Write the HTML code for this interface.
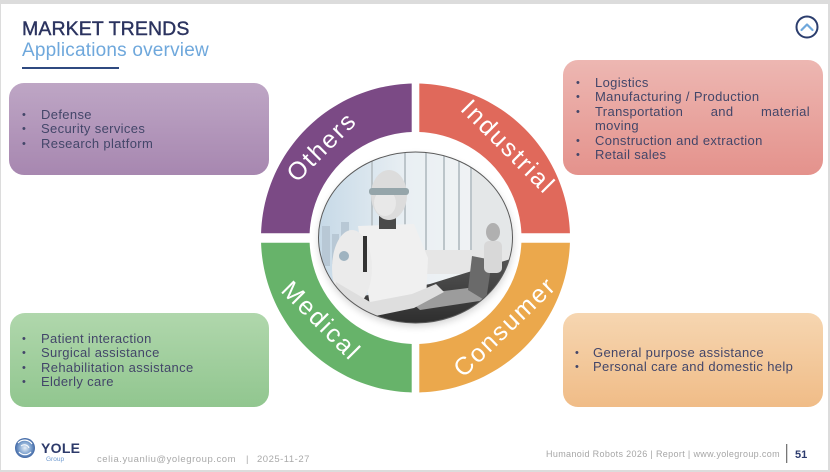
<!DOCTYPE html>
<html><head><meta charset="utf-8">
<style>
*{margin:0;padding:0;box-sizing:border-box}
html,body{width:830px;height:472px;overflow:hidden;background:#dcdcdc;font-family:"Liberation Sans",sans-serif}
#slide{position:absolute;left:1px;top:4px;width:827px;height:466px;background:#fff}
.abs{position:absolute}
.box{position:absolute;border-radius:15px}
.list{position:absolute;font-size:13px;line-height:14.4px;color:#434669;letter-spacing:0.35px;white-space:nowrap}
.it{position:relative}
.it .b{position:absolute;top:0;font-size:11px}
.just{display:block;text-align:justify;text-align-last:justify;white-space:normal}
</style></head><body>
<div id="slide"></div>

<!-- boxes -->
<div class="box" style="left:9px;top:83px;width:260px;height:92px;background:linear-gradient(#bea6c5,#a787b0)"></div>
<div class="box" style="left:563px;top:60px;width:260px;height:115px;background:linear-gradient(#edb7b2,#e4928c)"></div>
<div class="box" style="left:10px;top:313px;width:259px;height:94px;background:linear-gradient(#b0d7ac,#91c68f)"></div>
<div class="box" style="left:563px;top:313px;width:260px;height:94px;background:linear-gradient(#f6d6b1,#f0bc87)"></div>

<!-- lists -->
<div class="list" style="left:23px;top:108px;">
  <div class="it" style="padding-left:18px"><span class="b" style="left:-1px">•</span>Defense</div>
  <div class="it" style="padding-left:18px"><span class="b" style="left:-1px">•</span>Security services</div>
  <div class="it" style="padding-left:18px"><span class="b" style="left:-1px">•</span>Research platform</div>
</div>
<div class="list" style="left:577px;top:76px;width:233px;">
  <div class="it" style="padding-left:18px"><span class="b" style="left:-1px">•</span>Logistics</div>
  <div class="it" style="padding-left:18px"><span class="b" style="left:-1px">•</span>Manufacturing / Production</div>
  <div class="it" style="padding-left:18px"><span class="b" style="left:-1px">•</span><span class="just">Transportation and material</span>moving</div>
  <div class="it" style="padding-left:18px"><span class="b" style="left:-1px">•</span>Construction and extraction</div>
  <div class="it" style="padding-left:18px"><span class="b" style="left:-1px">•</span>Retail sales</div>
</div>
<div class="list" style="left:23px;top:332px;">
  <div class="it" style="padding-left:18px"><span class="b" style="left:-1px">•</span>Patient interaction</div>
  <div class="it" style="padding-left:18px"><span class="b" style="left:-1px">•</span>Surgical assistance</div>
  <div class="it" style="padding-left:18px"><span class="b" style="left:-1px">•</span>Rehabilitation assistance</div>
  <div class="it" style="padding-left:18px"><span class="b" style="left:-1px">•</span>Elderly care</div>
</div>
<div class="list" style="left:576px;top:346px;">
  <div class="it" style="padding-left:17px"><span class="b" style="left:-1px">•</span>General purpose assistance</div>
  <div class="it" style="padding-left:17px"><span class="b" style="left:-1px">•</span>Personal care and domestic help</div>
</div>

<!-- title -->
<div class="abs" style="left:22px;top:18px;font-size:19.5px;color:#2b335f;line-height:22px;white-space:nowrap;-webkit-text-stroke:0.4px #2b335f;letter-spacing:0.1px">MARKET TRENDS</div>
<div class="abs" style="left:22px;top:40px;font-size:19px;color:#6fa8dc;line-height:22px;white-space:nowrap;letter-spacing:0.2px">Applications overview</div>
<div class="abs" style="left:22px;top:67px;width:97px;height:2px;background:#2f4a80"></div>

<svg class="abs" style="left:0;top:0" width="830" height="472" viewBox="0 0 830 472">
  <defs>
    <clipPath id="tl"><rect x="0" y="0" width="411.7" height="233.3"/></clipPath>
    <clipPath id="tr"><rect x="419.3" y="0" width="420" height="233.3"/></clipPath>
    <clipPath id="bl"><rect x="0" y="242.7" width="411.7" height="300"/></clipPath>
    <clipPath id="br"><rect x="419.3" y="242.7" width="420" height="300"/></clipPath>
    <clipPath id="ph"><ellipse cx="415.5" cy="237.5" rx="97" ry="85.5"/></clipPath>
    <linearGradient id="bg" x1="0" y1="0" x2="1" y2="0">
      <stop offset="0" stop-color="#c6d9e7"/><stop offset="0.45" stop-color="#e9eff3"/><stop offset="1" stop-color="#f4f5f5"/>
    </linearGradient>
    <linearGradient id="tab" x1="0" y1="0" x2="0" y2="1">
      <stop offset="0" stop-color="#555"/><stop offset="1" stop-color="#2a2a2a"/>
    </linearGradient>
    <radialGradient id="logo" cx="0.5" cy="0.5" r="0.5">
      <stop offset="0" stop-color="#e6eef7"/><stop offset="0.6" stop-color="#7fa3cf"/><stop offset="1" stop-color="#3f66a4"/>
    </radialGradient>
    <filter id="sh" x="-20%" y="-20%" width="140%" height="140%"><feGaussianBlur stdDeviation="4"/></filter>
  </defs>

  <!-- ring -->
  <path d="M415.5 83.5 A154.5 154.5 0 1 1 415.49 83.5 Z M415.5 132 A106 106 0 1 0 415.51 132 Z" fill="#7b4a85" fill-rule="evenodd" clip-path="url(#tl)"/>
  <path d="M415.5 83.5 A154.5 154.5 0 1 1 415.49 83.5 Z M415.5 132 A106 106 0 1 0 415.51 132 Z" fill="#e0695b" fill-rule="evenodd" clip-path="url(#tr)"/>
  <path d="M415.5 83.5 A154.5 154.5 0 1 1 415.49 83.5 Z M415.5 132 A106 106 0 1 0 415.51 132 Z" fill="#67b36a" fill-rule="evenodd" clip-path="url(#bl)"/>
  <path d="M415.5 83.5 A154.5 154.5 0 1 1 415.49 83.5 Z M415.5 132 A106 106 0 1 0 415.51 132 Z" fill="#eba84c" fill-rule="evenodd" clip-path="url(#br)"/>

  <g fill="#fff" font-family="Liberation Sans, sans-serif" font-size="25" letter-spacing="2" text-anchor="middle" dominant-baseline="central">
    <text x="322" y="147" transform="rotate(-45 322 147)">Others</text>
    <text x="508" y="147" transform="rotate(45 508 147)">Industrial</text>
    <text x="321" y="321" transform="rotate(45 321 321)">Medical</text>
    <text x="505" y="327" transform="rotate(-44 505 327)">Consumer</text>
  </g>

  <!-- photo -->
  <ellipse cx="416" cy="241" rx="97" ry="85" fill="#000" opacity="0.18" filter="url(#sh)"/>
  <ellipse cx="415.5" cy="237.5" rx="97" ry="85.5" fill="#fff"/>
  <g clip-path="url(#ph)">
    <rect x="318" y="152" width="196" height="172" fill="url(#bg)"/>
    <rect x="470" y="152" width="44" height="120" fill="#e4e7e8"/>
    <g stroke="#bcc5ca" stroke-width="2">
      <line x1="372" y1="152" x2="372" y2="280"/>
      <line x1="405" y1="152" x2="405" y2="270"/>
      <line x1="426" y1="152" x2="426" y2="265"/>
      <line x1="444" y1="155" x2="444" y2="262"/>
      <line x1="459" y1="158" x2="459" y2="260"/>
      <line x1="471" y1="160" x2="471" y2="258"/>
    </g>
    <g fill="#b8c8d5">
      <rect x="322" y="226" width="8" height="40"/>
      <rect x="332" y="234" width="7" height="30"/>
      <rect x="341" y="222" width="8" height="40"/>
    </g>
    <rect x="420" y="250" width="90" height="24" fill="#e6e6e6"/>
    <path d="M318 304 L430 284 L514 258 L514 330 L318 330 Z" fill="url(#tab)"/>
    <!-- laptop -->
    <path d="M404 296 L468 288 L486 300 L420 310 Z" fill="#9c9c9c"/>
    <path d="M472 256 L492 260 L486 301 L468 290 Z" fill="#6a6a6a"/>
    <!-- second robot -->
    <ellipse cx="493" cy="232" rx="7" ry="9" fill="#b0b0b0"/>
    <rect x="484" y="241" width="18" height="32" rx="5" fill="#d8d8d8"/>
    <!-- robot -->
    <path d="M358 226 L414 224 L428 258 L426 300 L370 306 Z" fill="#f0f0f0"/>
    <ellipse cx="352" cy="268" rx="20" ry="38" fill="#ebebeb"/>
    <path d="M336 282 L370 302 L412 294 L436 284 L444 292 L414 308 L366 318 L334 300 Z" fill="#dedede"/>
    <rect x="363" y="236" width="4" height="36" fill="#333"/>
    <rect x="379" y="216" width="17" height="13" fill="#4a4a4a"/>
    <ellipse cx="389" cy="195" rx="18" ry="25" fill="#dcdcdc"/>
    <ellipse cx="385" cy="203" rx="11" ry="13" fill="#e8e8e8"/>
    <rect x="369" y="188" width="40" height="7" rx="3" fill="#95a5aa"/>
    <circle cx="344" cy="256" r="5" fill="#9fb3c0"/>
  </g>
  <ellipse cx="415.5" cy="237.5" rx="97" ry="85.5" fill="none" stroke="#5a5a5a" stroke-width="1"/>

  <!-- chevron icon -->
  <circle cx="807" cy="27" r="10.5" fill="#fff" stroke="#2c3e6e" stroke-width="2"/>
  <path d="M801.5 30 L807 24.5 L812.5 30" fill="none" stroke="#6fa8dc" stroke-width="2.2" stroke-linecap="round" stroke-linejoin="round"/>

  <!-- logo -->
  <circle cx="25" cy="448" r="10" fill="url(#logo)"/>
  <path d="M18 443 A9 9 0 0 1 32 444" fill="none" stroke="#fff" stroke-width="1.2"/>
  <path d="M19 452 A8 8 0 0 0 31 452" fill="none" stroke="#fff" stroke-width="1.2"/>
  <path d="M21 446 A5 5 0 0 1 29 448" fill="none" stroke="#fff" stroke-width="1"/>
  <text x="41" y="453" font-family="Liberation Sans, sans-serif" font-weight="bold" font-size="14" fill="#2d3a6a" letter-spacing="0.3">YOLE</text>
  <text x="46" y="461" font-family="Liberation Sans, sans-serif" font-size="6.5" fill="#6f9ad0">Group</text>

  <!-- footer -->
  <g font-family="Liberation Sans, sans-serif" font-size="9.5" fill="#a9a9a9">
    <text x="97" y="462" letter-spacing="0.55">celia.yuanliu@yolegroup.com</text>
    <text x="246" y="462">|</text>
    <text x="257" y="462" letter-spacing="0.5">2025-11-27</text>
  </g>
  <text x="546" y="457" font-family="Liberation Sans, sans-serif" font-size="9" fill="#a6a6a6" letter-spacing="0.35">Humanoid Robots 2026 | Report | www.yolegroup.com</text>
  <rect x="786" y="444" width="1.3" height="19" fill="#777"/>
  <text x="795" y="458" font-family="Liberation Sans, sans-serif" font-weight="bold" font-size="11" fill="#2c3b6e">51</text>
</svg>
</body></html>
